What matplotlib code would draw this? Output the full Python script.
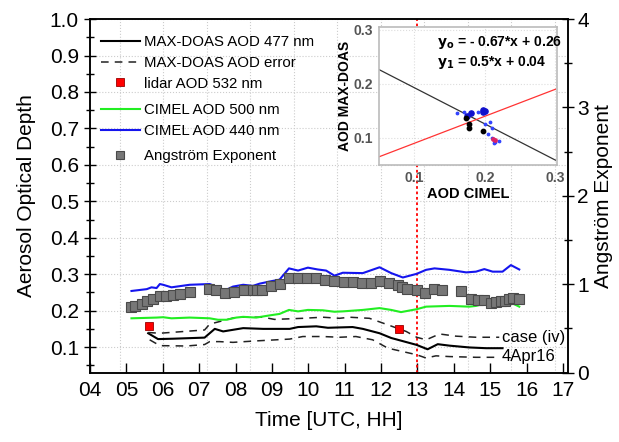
import numpy as np
import matplotlib
matplotlib.use('Agg')
import matplotlib.pyplot as plt
from matplotlib.ticker import MultipleLocator, FuncFormatter

plt.rcParams['font.family'] = ['Liberation Sans', 'DejaVu Sans']

# MAX-DOAS AOD 477 nm
doas_t = [5.60, 5.87, 6.28, 7.15, 7.43, 7.66, 8.21, 8.76, 9.49, 9.72, 10.22, 10.54, 10.86,
          11.22, 11.50, 11.96, 12.28, 12.98, 13.28, 13.56, 13.88, 14.43, 14.89, 15.34]
doas_aod = [0.138, 0.122, 0.123, 0.126, 0.150, 0.143, 0.152, 0.150, 0.150, 0.155, 0.157, 0.153, 0.154,
            0.155, 0.150, 0.138, 0.125, 0.106, 0.094, 0.108, 0.104, 0.099, 0.097, 0.097]

# MAX-DOAS error envelope
err_up_t = [5.60, 5.92, 7.15, 7.29, 8.02, 8.76, 9.07, 9.85, 10.40, 10.86, 11.13, 11.68,
            12.05, 12.69, 12.98, 13.24, 13.61, 14.06, 14.61, 15.25]
err_up = [0.140, 0.138, 0.147, 0.163, 0.182, 0.182, 0.176, 0.179, 0.182, 0.179, 0.182, 0.179,
          0.166, 0.143, 0.127, 0.120, 0.136, 0.130, 0.127, 0.127]
err_lo_t = [5.64, 5.92, 6.65, 7.15, 7.29, 7.56, 7.93, 8.57, 9.49, 9.85, 10.40, 10.86, 11.31,
            11.77, 12.19, 12.98, 13.24, 13.51, 13.88, 14.61, 15.25]
err_lo = [0.120, 0.104, 0.103, 0.107, 0.115, 0.115, 0.113, 0.117, 0.122, 0.129, 0.129, 0.127, 0.129,
          0.120, 0.097, 0.079, 0.070, 0.076, 0.074, 0.072, 0.072]

# lidar AOD 532 nm
lidar_t = [5.61, 12.49]
lidar_aod = [0.159, 0.151]

# CIMEL AOD 500 nm
c500_t = [5.14, 5.83, 6.01, 6.24, 6.74, 7.29, 7.52, 7.75, 8.02, 8.21, 8.57, 8.94, 9.21, 9.47,
          9.72, 9.99, 10.40, 10.72, 10.95, 11.50, 11.96, 12.28, 12.55, 12.98, 13.24, 13.88,
          14.43, 14.61, 14.89, 15.16, 15.34, 15.57, 15.80]
c500_aod = [0.179, 0.181, 0.182, 0.179, 0.181, 0.179, 0.175, 0.175, 0.181, 0.183, 0.181, 0.187,
            0.191, 0.202, 0.198, 0.202, 0.201, 0.197, 0.198, 0.202, 0.207, 0.202, 0.196, 0.204,
            0.211, 0.213, 0.211, 0.213, 0.220, 0.216, 0.213, 0.222, 0.211]

# CIMEL AOD 440 nm
c440_t = [5.14, 5.56, 5.69, 5.83, 5.92, 6.01, 6.24, 6.74, 7.29, 7.52, 7.70, 7.93, 8.21, 8.48,
          8.66, 8.94, 9.21, 9.47, 9.72, 9.99, 10.26, 10.49, 10.72, 10.95, 11.50, 11.96, 12.28,
          12.60, 12.98, 13.24, 13.47, 13.88, 14.34, 14.61, 14.84, 15.07, 15.34, 15.57, 15.80]
c440_aod = [0.254, 0.259, 0.264, 0.262, 0.273, 0.271, 0.264, 0.271, 0.273, 0.264, 0.255, 0.266,
            0.271, 0.268, 0.274, 0.280, 0.285, 0.316, 0.310, 0.318, 0.313, 0.310, 0.296, 0.304,
            0.303, 0.319, 0.303, 0.291, 0.301, 0.312, 0.316, 0.312, 0.305, 0.307, 0.314, 0.307,
            0.307, 0.325, 0.313]

# Angstrom exponent
ae_t = [5.14, 5.25, 5.42, 5.57, 5.72, 5.92, 6.10, 6.29, 6.47, 6.74, 7.27, 7.47, 7.72, 7.96,
        8.22, 8.48, 8.59, 8.73, 8.98, 9.23, 9.47, 9.72, 9.96, 10.22, 10.47, 10.72, 10.97, 11.22,
        11.47, 11.72, 11.97, 12.21, 12.46, 12.58, 12.72, 12.98, 13.22, 13.47, 13.68, 14.21,
        14.48, 14.66, 14.84, 15.03, 15.16, 15.30, 15.42, 15.53, 15.64, 15.80]
ae = [0.742, 0.750, 0.781, 0.807, 0.830, 0.867, 0.867, 0.875, 0.894, 0.917, 0.951, 0.932, 0.905,
      0.917, 0.939, 0.939, 0.932, 0.939, 0.977, 1.008, 1.076, 1.065, 1.076, 1.065, 1.045, 1.038,
      1.027, 1.027, 1.015, 1.019, 1.034, 1.015, 0.989, 0.970, 0.951, 0.932, 0.905, 0.951, 0.939,
      0.924, 0.837, 0.818, 0.818, 0.792, 0.800, 0.811, 0.811, 0.837, 0.845, 0.837]

# inset: MAX-DOAS vs CIMEL
blue_big_x = [0.175, 0.180, 0.197, 0.200, 0.198]
blue_big_y = [0.140, 0.147, 0.152, 0.150, 0.148]
blue_small_x = [0.160, 0.170, 0.190, 0.207, 0.200, 0.210, 0.205, 0.210, 0.215, 0.220, 0.213]
blue_small_y = [0.146, 0.148, 0.148, 0.130, 0.125, 0.118, 0.108, 0.100, 0.093, 0.095, 0.090]
black_x = [0.174, 0.177, 0.177, 0.197]
black_y = [0.137, 0.125, 0.118, 0.113]
red_x = [0.211, 0.215]
red_y = [0.098, 0.097]
fit0 = (-0.67, 0.26)
fit1 = (0.5, 0.04)

fig = plt.figure(figsize=(6.19, 4.42), dpi=100)
ax = fig.add_axes([0.1454, 0.157, 0.7722, 0.7998])
ax2 = ax.twinx()

# grid (vertical lines not on hour ticks, as in original)
for gx in np.linspace(4.82, 16.77, 11):
    ax.axvline(gx, color='#cccccc', ls=':', lw=0.8, zorder=0)
ax.yaxis.grid(True, color='#cccccc', ls=':', lw=0.8)
ax.set_axisbelow(True)

l_doas, = ax.plot(doas_t, doas_aod, color='black', lw=1.5, zorder=3)
l_err, = ax.plot(err_up_t, err_up, color='#222222', lw=1.1, ls=(0, (5, 4)), zorder=3)
ax.plot(err_lo_t, err_lo, color='#222222', lw=1.1, ls=(0, (5, 4)), zorder=3)
l_lidar, = ax.plot(lidar_t, lidar_aod, ls='none', marker='s', ms=6, mfc='red', mec='#990000',
                   mew=0.6, zorder=4)
l_500, = ax.plot(c500_t, c500_aod, color='#22ee22', lw=1.5, zorder=3)
l_440, = ax.plot(c440_t, c440_aod, color='#1515ee', lw=1.5, zorder=3)
ax.axvline(13, color='red', ls=(0, (1.5, 1.5)), lw=1.3, zorder=2)

ax2.plot(ae_t, ae, ls='none', marker='s', ms=7, mfc='#777777', mec='#4a4a4a', mew=0.8, zorder=3)
ae_handle = plt.Line2D([], [], ls='none', marker='s', ms=5.5, mfc='#777777', mec='#4a4a4a', mew=0.8)

ax.set_xlim(4, 17.14)
ax.set_ylim(0.03, 1.0)
ax2.set_ylim(0, 4)
ax.xaxis.set_major_locator(MultipleLocator(1))
ax.xaxis.set_major_formatter(FuncFormatter(lambda v, p: '%02d' % int(round(v))))
ax.yaxis.set_major_locator(MultipleLocator(0.1))
ax.yaxis.set_minor_locator(MultipleLocator(0.05))
ax2.yaxis.set_major_locator(MultipleLocator(1))
ax2.yaxis.set_minor_locator(MultipleLocator(0.5))
ax.tick_params(axis='x', direction='in', length=7, width=1, labelsize=15, pad=6)
ax.tick_params(axis='y', which='major', direction='inout', length=9, width=1, labelsize=15)
ax.tick_params(axis='y', which='minor', direction='inout', length=6, width=1)
ax2.tick_params(axis='y', which='major', direction='inout', length=9, width=1, labelsize=15, pad=2)
ax2.tick_params(axis='y', which='minor', direction='inout', length=6, width=1)
for a in (ax, ax2):
    for s in a.spines.values():
        s.set_linewidth(1.1)

ax.set_xlabel('Time [UTC, HH]', fontsize=15, labelpad=8)
ax.set_ylabel('Aerosol Optical Depth', fontsize=15, labelpad=10)
ax2.set_ylabel('Angström Exponent', fontsize=15, labelpad=4)

ax.text(15.32, 0.125, 'case (iv)', fontsize=12, ha='left', va='center', zorder=5)
ax.text(15.32, 0.0743, '4Apr16', fontsize=12, ha='left', va='center', zorder=5)

leg_kw = dict(loc='upper left', frameon=False, fontsize=10.8, handlelength=2.6,
              handletextpad=0.3, labelspacing=0.45, borderaxespad=0, borderpad=0)
leg1 = ax.legend([l_doas, l_err, l_lidar],
                 ['MAX-DOAS AOD 477 nm', 'MAX-DOAS AOD error', 'lidar AOD 532 nm'],
                 bbox_to_anchor=(0.022, 0.9545), **leg_kw)
ax.add_artist(leg1)
leg2 = ax.legend([l_500, l_440], ['CIMEL AOD 500 nm', 'CIMEL AOD 440 nm'],
                 bbox_to_anchor=(0.022, 0.762), **leg_kw)
ax.add_artist(leg2)
ax.legend([ae_handle], ['Angström Exponent'], bbox_to_anchor=(0.022, 0.632), **leg_kw)

# inset
ins = fig.add_axes([0.612, 0.6267, 0.2876, 0.3122])
ins.set_facecolor('white')
ins.grid(True, color='#dddddd', ls=':', lw=0.8)
ins.set_axisbelow(True)
xx = np.array([0.05, 0.3])
ins.plot(xx, fit0[0] * xx + fit0[1], color='#333333', lw=0.9)
ins.plot(xx, fit1[0] * xx + fit1[1], color='#ff3333', lw=0.9)
ins.scatter(blue_small_x, blue_small_y, s=3, color='#3344ff', zorder=3)
ins.scatter(blue_big_x, blue_big_y, s=14, color='#1010cc', zorder=3)
ins.scatter(black_x, black_y, s=10, color='black', zorder=4)
ins.scatter(red_x, red_y, s=6, color='#dd2266', zorder=4)
ins.set_xlim(0.05, 0.302)
ins.set_ylim(0.05, 0.305)
ins.set_xticks([0.1, 0.2, 0.3])
ins.set_yticks([0.1, 0.2, 0.3])
ins.tick_params(length=0, labelsize=10, labelcolor='#555555', pad=4)
for lab in ins.get_xticklabels() + ins.get_yticklabels():
    lab.set_fontweight('bold')
for s in ins.spines.values():
    s.set_color('#bbbbbb')
    s.set_linewidth(1.2)
ins.set_xlabel('AOD CIMEL', fontsize=10.5, fontweight='bold', labelpad=2)
ins.set_ylabel('AOD MAX-DOAS', fontsize=10, fontweight='bold', labelpad=1)
ins.text(0.132, 0.277, r'$\mathbf{y_o}$ = - 0.67*x + 0.26', fontsize=10, fontweight='bold', va='center')
ins.text(0.132, 0.239, r'$\mathbf{y_1}$ = 0.5*x + 0.04', fontsize=10, fontweight='bold', va='center')

fig.savefig('out.png', dpi=100)
